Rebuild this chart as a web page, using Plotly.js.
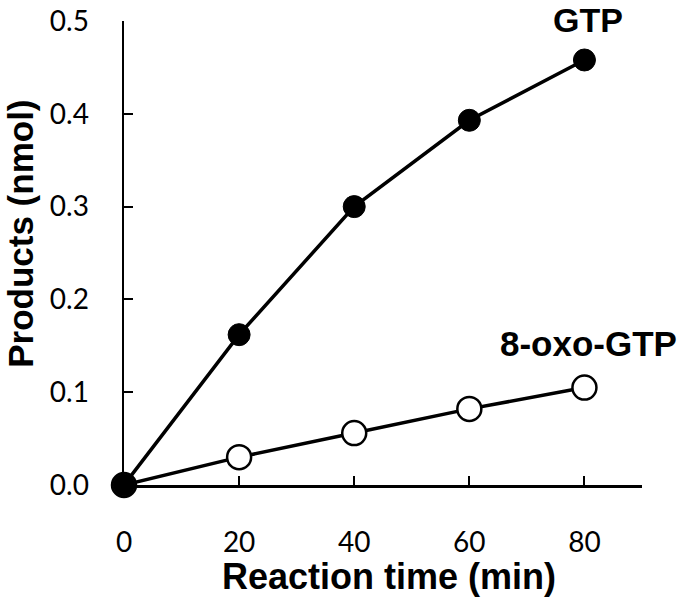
<!DOCTYPE html>
<html><head><meta charset="utf-8">
<script src="https://cdn.plot.ly/plotly-3.0.1.min.js"></script>
<style>html,body{margin:0;padding:0;background:#fff}#c{width:680px;height:598px}</style>
</head><body><div id="c"></div>
<script>
const times = [0, 20, 40, 60, 80];
const gtp = [0, 0.162, 0.300, 0.393, 0.458];
const oxoGtp = [0, 0.030, 0.056, 0.082, 0.105];
const xTicks = [0, 20, 40, 60, 80];
const yTicks = [0, 0.1, 0.2, 0.3, 0.4, 0.5];
const yTickText = ['0.0', '0.1', '0.2', '0.3', '0.4', '0.5'];
const seriesNames = ['GTP', '8-oxo-GTP'];

const traces = [
  {x: times, y: oxoGtp, name: seriesNames[1], mode: 'lines+markers', cliponaxis: false,
   line: {color: '#000', width: 3.5},
   marker: {size: 24, color: '#fff', line: {color: '#000', width: 2.5}}},
  {x: times, y: gtp, name: seriesNames[0], mode: 'lines+markers', cliponaxis: false,
   line: {color: '#000', width: 3.5},
   marker: {size: 22, color: '#000', line: {color: '#000', width: 1}}}
];

const titleFont = {family: 'Liberation Sans, Arial, sans-serif', size: 36, color: '#000', weight: 'bold'};
const yTitleFont = {family: 'Liberation Sans, Arial, sans-serif', size: 35, color: '#000', weight: 'bold'};
const labelFont = {family: 'Liberation Sans, Arial, sans-serif', size: 35, color: '#000', weight: 'bold'};
const topLabelFont = {family: 'Liberation Sans, Arial, sans-serif', size: 34, color: '#000', weight: 'bold'};
const layout = {
  width: 680, height: 598,
  margin: {l: 124, r: 38, t: 21, b: 113},
  paper_bgcolor: '#fff', plot_bgcolor: '#fff',
  showlegend: false,
  font: {family: 'Lato, Carlito, sans-serif', size: 28, color: '#000'},
  xaxis: {range: [0, 90], tickvals: xTicks, ticks: 'inside', ticklen: 9, tickwidth: 2, tickcolor: '#000',
          showline: true, linecolor: '#000', linewidth: 2.5, showgrid: false, zeroline: false,
          ticklabelstandoff: 31, fixedrange: true},
  yaxis: {range: [0, 0.5], tickvals: yTicks, ticktext: yTickText, ticks: 'inside', ticklen: 9, tickwidth: 2, tickcolor: '#000',
          showline: true, linecolor: '#000', linewidth: 2.5, showgrid: false, zeroline: false,
          ticklabelstandoff: 27, fixedrange: true},
  annotations: [
    {text: 'Reaction time (min)', xref: 'paper', yref: 'paper', x: 0.5116, y: -0.198, showarrow: false,
     xanchor: 'center', yanchor: 'middle', font: titleFont},
    {text: 'Products (nmol)', xref: 'paper', yref: 'paper', x: -0.1995, y: 0.5406, showarrow: false, textangle: -90,
     xanchor: 'center', yanchor: 'middle', borderpad: 0, font: yTitleFont},
    {text: seriesNames[0], xref: 'paper', yref: 'paper', x: 0.896, y: 1.003, showarrow: false,
     xanchor: 'center', yanchor: 'middle', borderpad: 0, font: topLabelFont},
    {text: seriesNames[1], xref: 'paper', yref: 'paper', x: 0.896, y: 0.306, showarrow: false,
     xanchor: 'center', yanchor: 'middle', font: labelFont}
  ]
};
Plotly.newPlot('c', traces, layout, {staticPlot: true, displayModeBar: false});
</script></body></html>
